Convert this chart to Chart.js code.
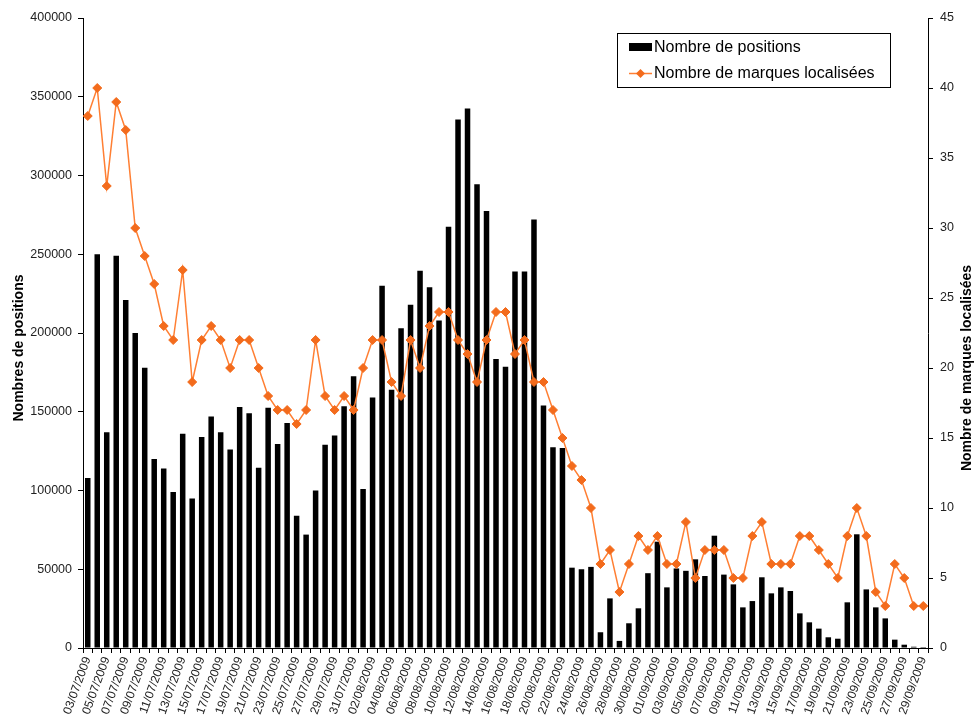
<!DOCTYPE html>
<html>
<head>
<meta charset="utf-8">
<script src="https://cdn.jsdelivr.net/npm/chart.js@4/dist/chart.umd.min.js"></script>
<style>
html,body{margin:0;padding:0;background:#fff;}
#wrap{width:975px;height:722px;position:relative;overflow:hidden;}
canvas{display:block;}
</style>
</head>
<body>
<div id="wrap"><canvas id="c" width="975" height="722"></canvas></div>
<script>
// ---- data ----
const dates = [
"03/07/2009","04/07/2009","05/07/2009","06/07/2009","07/07/2009","08/07/2009","09/07/2009","10/07/2009","11/07/2009","12/07/2009",
"13/07/2009","14/07/2009","15/07/2009","16/07/2009","17/07/2009","18/07/2009","19/07/2009","20/07/2009","21/07/2009","22/07/2009",
"23/07/2009","24/07/2009","25/07/2009","26/07/2009","27/07/2009","28/07/2009","29/07/2009","30/07/2009","31/07/2009",
"01/08/2009","02/08/2009","03/08/2009","04/08/2009","05/08/2009","06/08/2009","07/08/2009","08/08/2009","09/08/2009","10/08/2009",
"11/08/2009","12/08/2009","13/08/2009","14/08/2009","15/08/2009","16/08/2009","17/08/2009","18/08/2009","19/08/2009","20/08/2009",
"21/08/2009","22/08/2009","23/08/2009","24/08/2009","25/08/2009","26/08/2009","27/08/2009","28/08/2009","29/08/2009","30/08/2009","31/08/2009",
"01/09/2009","02/09/2009","03/09/2009","04/09/2009","05/09/2009","06/09/2009","07/09/2009","08/09/2009","09/09/2009","10/09/2009",
"11/09/2009","12/09/2009","13/09/2009","14/09/2009","15/09/2009","16/09/2009","17/09/2009","18/09/2009","19/09/2009","20/09/2009",
"21/09/2009","22/09/2009","23/09/2009","24/09/2009","25/09/2009","26/09/2009","27/09/2009","28/09/2009","29/09/2009"
];

const positions = [
108000,250000,137000,249000,221000,200000,178000,120000,114000,99000,
136000,95000,134000,147000,137000,126000,153000,149000,114500,152600,
129500,142900,84000,72000,100000,129000,135000,153500,172500,
101000,159000,230000,164000,203000,218000,239500,229000,208000,267500,
335500,342500,294500,277500,183500,178500,239000,239000,272000,154000,
127500,127000,51000,50000,51500,10000,31500,4500,15700,25200,47500,
67500,38500,50500,49000,56300,45700,71300,46600,40400,25800,
29800,44900,34700,38500,36200,22000,16300,12300,6800,5900,
29000,72200,37200,25800,18800,5300,2100,800,600
];

const marques = [
38,40,33,39,37,30,28,26,23,22,
27,19,22,23,22,20,22,22,20,18,
17,17,16,17,22,18,17,18,17,
20,22,22,19,18,22,20,23,24,24,
22,21,19,22,24,24,21,22,19,19,
17,15,13,12,10,6,7,4,6,8,7,
8,6,6,9,5,7,7,7,5,5,
8,9,6,6,6,8,8,7,6,5,
8,10,8,4,3,6,5,3,3
];

const seriesNames = ["Nombre de positions", "Nombre de marques localisées"];
const axisTitles = ["Nombres de positions", "Nombre de marques localisées"];
const leftTicks = [0,50000,100000,150000,200000,250000,300000,350000,400000];
const rightTicks = [0,5,10,15,20,25,30,35,40,45];

// ---- styles ----
const FONT = "'Liberation Sans', Arial, sans-serif";
const ORANGE_LINE = '#FF7F33';
const ORANGE_PT = '#F36B1C';
const TICK_COLOR = '#222';

const titlesPlugin = {
  id: 'axisTitlesCustom',
  afterDraw(chart) {
    const c = chart.ctx;
    c.save();
    c.font = 'bold 14px ' + FONT;
    c.fillStyle = '#000';
    c.textAlign = 'center';
    c.textBaseline = 'middle';
    c.translate(19, 348);
    c.rotate(-Math.PI / 2);
    c.fillText(axisTitles[0], 0, 0);
    c.restore();
    c.save();
    c.font = 'bold 14px ' + FONT;
    c.fillStyle = '#000';
    c.textAlign = 'center';
    c.textBaseline = 'middle';
    c.translate(967, 368);
    c.rotate(-Math.PI / 2);
    c.fillText(axisTitles[1], 0, 0);
    c.restore();
  }
};

const legendPlugin = {
  id: 'insideLegend',
  afterDraw(chart) {
    const c = chart.ctx;
    const bx = 617.5, by = 33.5, bw = 273, bh = 54;
    c.save();
    c.fillStyle = '#fff';
    c.fillRect(bx, by, bw, bh);
    c.strokeStyle = '#000';
    c.lineWidth = 1;
    c.strokeRect(bx, by, bw, bh);
    // bar entry
    c.fillStyle = '#000';
    c.fillRect(629, 43, 23, 8);
    // line entry
    c.strokeStyle = ORANGE_LINE;
    c.lineWidth = 1.5;
    c.beginPath();
    c.moveTo(629, 73.5);
    c.lineTo(652, 73.5);
    c.stroke();
    c.fillStyle = ORANGE_PT;
    c.beginPath();
    const cx = 640.5, cy = 73.5, r = 4.5;
    c.moveTo(cx, cy - r); c.lineTo(cx + r, cy); c.lineTo(cx, cy + r); c.lineTo(cx - r, cy); c.closePath();
    c.fill();
    c.fillStyle = '#000';
    c.font = '16px ' + FONT;
    c.textAlign = 'left';
    c.textBaseline = 'middle';
    c.fillText(seriesNames[0], 654, 47.5);
    c.fillText(seriesNames[1], 654, 74);
    c.restore();
  }
};

new Chart(document.getElementById('c'), {
  type: 'bar',
  data: {
    labels: dates,
    datasets: [
      {
        type: 'line',
        label: seriesNames[1],
        data: marques,
        yAxisID: 'y1',
        borderColor: ORANGE_LINE,
        borderWidth: 1.5,
        pointStyle: 'rectRot',
        pointRadius: 4.5,
        pointBackgroundColor: ORANGE_PT,
        pointBorderColor: ORANGE_PT,
        pointBorderWidth: 1,
        tension: 0,
        fill: false,
        order: 0
      },
      {
        type: 'bar',
        label: seriesNames[0],
        data: positions,
        yAxisID: 'y',
        backgroundColor: '#000',
        borderWidth: 0,
        barPercentage: 0.58,
        categoryPercentage: 1,
        order: 1
      }
    ]
  },
  options: {
    responsive: false,
    animation: false,
    layout: { padding: { top: 18, left: 0, right: 0, bottom: 0 } },
    plugins: { legend: { display: false }, tooltip: { enabled: false } },
    scales: {
      x: {
        grid: { offset: true, drawOnChartArea: false, tickLength: 5, color: '#000', lineWidth: 1 },
        border: { color: '#000', width: 1 },
        ticks: {
          autoSkip: false, maxRotation: 70, minRotation: 70, padding: 2,
          color: TICK_COLOR, font: { family: FONT, size: 12 },
          callback: (v, i) => (i % 2 === 0 ? dates[i] : '')
        },
        afterFit: s => { s.height = 74; }
      },
      y: {
        position: 'left',
        min: 0, max: 400000,
        grid: { drawOnChartArea: false, tickLength: 5, color: '#000' },
        border: { color: '#000', width: 1 },
        ticks: { padding: 6, color: TICK_COLOR, font: { family: FONT, size: 12.5 }, callback: v => String(v) },
        afterBuildTicks: s => { s.ticks = leftTicks.map(v => ({ value: v })); },
        afterFit: s => { s.width = 83; }
      },
      y1: {
        position: 'right',
        min: 0, max: 45,
        grid: { drawOnChartArea: false, tickLength: 5, color: '#000' },
        border: { color: '#000', width: 1 },
        ticks: { padding: 7, color: TICK_COLOR, font: { family: FONT, size: 12.5 }, callback: v => String(v) },
        afterBuildTicks: s => { s.ticks = rightTicks.map(v => ({ value: v })); },
        afterFit: s => { s.width = 47; }
      }
    }
  },
  plugins: [titlesPlugin, legendPlugin]
});
</script>
</body>
</html>
